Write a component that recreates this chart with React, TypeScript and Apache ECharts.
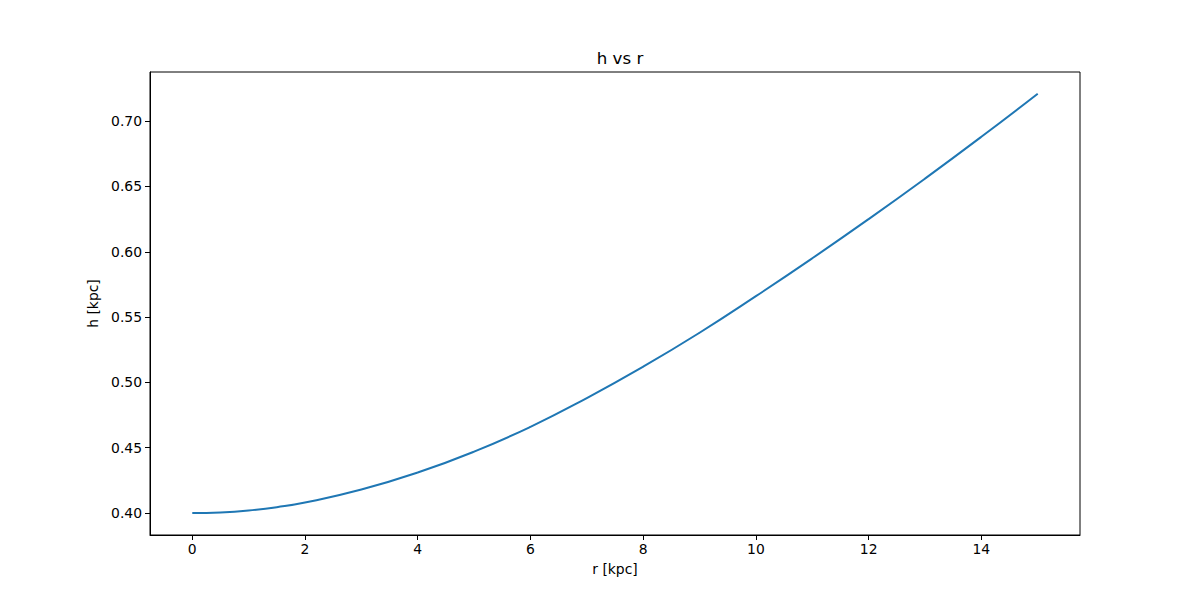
import React, { useEffect, useRef } from "react";
import * as echarts from "echarts";

const rValues = [0, 0.5, 1, 1.5, 2, 3, 4, 5, 6, 7, 8, 9, 10, 11, 12, 13, 14, 15];
const hValues = [0.4, 0.4005, 0.402, 0.4045, 0.408, 0.418, 0.431, 0.447, 0.466, 0.488, 0.512, 0.538, 0.566, 0.595, 0.625, 0.656, 0.688, 0.721];
const xTicks = [0, 2, 4, 6, 8, 10, 12, 14];
const yTicks = [0.4, 0.45, 0.5, 0.55, 0.6, 0.65, 0.7];

export default function App() {
  const ref = useRef<HTMLDivElement>(null);
  useEffect(() => {
    if (!ref.current) return;
    const chart = echarts.init(ref.current, null, { renderer: "svg" });
    const font = "DejaVu Sans";
    chart.setOption({
      animation: false,
      backgroundColor: "#ffffff",
      title: {
        text: "h vs r",
        left: 615,
        textAlign: "center",
        top: 44,
        textStyle: { fontFamily: font, fontSize: 16.7, fontWeight: "normal", color: "#000" },
      },
      grid: {
        left: 150,
        right: 120,
        top: 72,
        bottom: 65,
        show: true,
        borderColor: "#000",
        borderWidth: 1,
        backgroundColor: "transparent",
      },
      xAxis: {
        type: "value",
        min: -0.75,
        max: 15.75,
        name: "r [kpc]",
        nameLocation: "middle",
        nameGap: 27,
        nameTextStyle: { fontFamily: font, fontSize: 13.9, color: "#000" },
        axisLine: { show: true, onZero: false, lineStyle: { color: "#000", width: 1 } },
        axisTick: { show: true, length: 5, lineStyle: { color: "#000" }, customValues: xTicks },
        axisLabel: {
          fontFamily: font,
          fontSize: 13.9,
          color: "#000",
          margin: 7,
          customValues: xTicks,
          formatter: (v: number) => String(v),
        },
        splitLine: { show: false },
      },
      yAxis: {
        type: "value",
        min: 0.3832,
        max: 0.7376,
        name: "h [kpc]",
        nameLocation: "middle",
        nameGap: 47,
        nameTextStyle: { fontFamily: font, fontSize: 13.9, color: "#000" },
        axisLine: { show: true, onZero: false, lineStyle: { color: "#000", width: 1 } },
        axisTick: { show: true, length: 5, lineStyle: { color: "#000" }, customValues: yTicks },
        axisLabel: {
          fontFamily: font,
          fontSize: 13.9,
          color: "#000",
          margin: 8,
          customValues: yTicks,
          formatter: (v: number) => v.toFixed(2),
        },
        splitLine: { show: false },
      },
      series: [
        {
          type: "line",
          data: rValues.map((r, i) => [r, hValues[i]]),
          smooth: true,
          showSymbol: false,
          symbol: "none",
          lineStyle: { color: "#1f77b4", width: 2 },
        },
      ],
    });
    return () => chart.dispose();
  }, []);
  return (
    <div
      ref={ref}
      style={{ position: "fixed", left: 0, top: 0, width: 1200, height: 600 }}
    />
  );
}
